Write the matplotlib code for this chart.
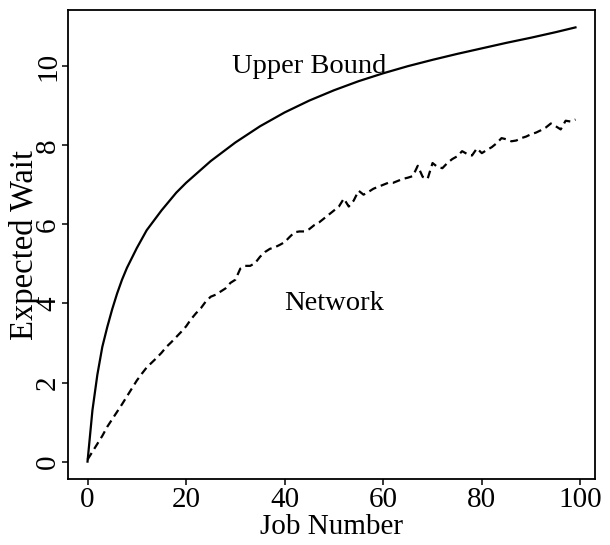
import numpy as np
import matplotlib
matplotlib.use("Agg")
import matplotlib.pyplot as plt

# --- data ---

# upper bound curve (smooth), sampled at a few job numbers
bound_jobs = [0, 1, 2, 3, 4, 5, 6, 7, 8, 10, 12, 15, 18, 20, 25, 30, 35,
              40, 45, 50, 55, 60, 65, 70, 75, 80, 85, 90, 95, 99]
bound_wait = [0.0, 1.3, 2.2, 2.9, 3.4, 3.85, 4.25, 4.6, 4.9, 5.4, 5.85,
              6.35, 6.8, 7.05, 7.6, 8.07, 8.48, 8.83, 9.13, 9.39, 9.62,
              9.82, 10.0, 10.16, 10.31, 10.45, 10.59, 10.72, 10.86, 10.98]

# simulated network, one value per job 0..99
network_jobs = list(range(100))
network_wait = [
    0.05, 0.25, 0.45, 0.65, 0.88, 1.07, 1.26, 1.45, 1.65, 1.85,
    2.05, 2.22, 2.38, 2.50, 2.62, 2.75, 2.90, 3.02, 3.15, 3.28,
    3.42, 3.60, 3.75, 3.88, 4.05, 4.17, 4.22, 4.30, 4.38, 4.52,
    4.60, 4.88, 4.95, 4.95, 5.02, 5.18, 5.30, 5.38, 5.42, 5.48,
    5.55, 5.68, 5.80, 5.82, 5.82, 5.88, 5.98, 6.05, 6.15, 6.25,
    6.35, 6.45, 6.65, 6.45, 6.60, 6.85, 6.75, 6.82, 6.90, 6.95,
    7.00, 7.05, 7.05, 7.10, 7.15, 7.18, 7.22, 7.48, 7.20, 7.15,
    7.55, 7.45, 7.42, 7.55, 7.65, 7.72, 7.85, 7.78, 7.74, 7.92,
    7.80, 7.88, 7.95, 8.05, 8.18, 8.15, 8.10, 8.12, 8.18, 8.22,
    8.28, 8.32, 8.38, 8.45, 8.55, 8.48, 8.40, 8.62, 8.60, 8.65,
]

x_ticks = [0, 20, 40, 60, 80, 100]
y_ticks = [0, 2, 4, 6, 8, 10]

# --- figure ---
plt.rcParams['font.family'] = ['Liberation Serif', 'DejaVu Serif']

fig = plt.figure(figsize=(6.10, 5.45), dpi=100)
ax = fig.add_axes([68 / 610, (545 - 479) / 545, 527 / 610, 469 / 545])

ax.plot(bound_jobs, bound_wait, color='black', linewidth=1.6)
ax.plot(network_jobs, network_wait, color='black', linewidth=1.6,
        linestyle=(0, (3.5, 2.2)))

ax.text(45, 10.0, 'Upper Bound', fontsize=20.5, ha='center', va='center')
ax.text(50, 4.0, 'Network', fontsize=20.5, ha='center', va='center')

# R-like extended ranges
ax.set_xlim(-3.96, 102.96)
ax.set_ylim(-0.44, 11.42)

ax.set_xticks(x_ticks)
ax.set_xticklabels([str(t) for t in x_ticks], fontsize=21)
ax.set_yticks(y_ticks)
ax.set_yticklabels([str(t) for t in y_ticks], fontsize=21,
                   rotation=90, va='center')

ax.tick_params(axis='both', direction='out', length=4, width=1.1,
               color='black')
ax.tick_params(axis='x', pad=2)
ax.tick_params(axis='y', pad=1)

for s in ax.spines.values():
    s.set_linewidth(1.3)
    s.set_color('black')

ax.set_xlabel('Job Number', fontsize=21, va='center')
ax.xaxis.set_label_coords(0.5, (479 - 527) / 469)
ax.set_ylabel('Expected Wait', fontsize=23.5, va='center')
ax.yaxis.set_label_coords((25 - 68) / 527, 0.5)

fig.savefig('out.png', dpi=100)
